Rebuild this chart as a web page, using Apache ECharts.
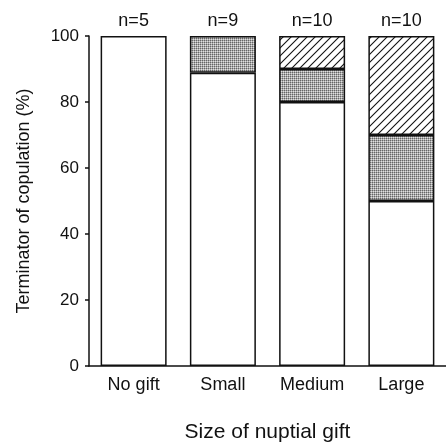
<!DOCTYPE html>
<html><head><meta charset="utf-8">
<script src="https://cdn.jsdelivr.net/npm/echarts@6/dist/echarts.min.js"></script>
<style>html,body{margin:0;padding:0;background:#fff}#c{width:446px;height:448px}</style>
</head><body><div id="c"></div>
<script>
var categories = ['No gift', 'Small', 'Medium', 'Large'];
var nLabels = ['n=5', 'n=9', 'n=10', 'n=10'];
var whiteVals = [100, 88.9, 80, 50];
var dottedVals = [0, 11.1, 10, 20];
var hatchedVals = [0, 0, 10, 30];

function makeHatch() {
  var c = document.createElement('canvas');
  c.width = 8; c.height = 8;
  var g = c.getContext('2d');
  g.fillStyle = '#fff'; g.fillRect(0, 0, 8, 8);
  g.strokeStyle = '#111'; g.lineWidth = 1.1;
  g.beginPath();
  g.moveTo(-1, 9); g.lineTo(9, -1);
  g.moveTo(-9, 9); g.lineTo(1, -1);
  g.moveTo(7, 9); g.lineTo(17, -1);
  g.stroke();
  return c;
}
function makeDots() {
  var c = document.createElement('canvas');
  c.width = 2; c.height = 2;
  var g = c.getContext('2d');
  g.fillStyle = '#666'; g.fillRect(0, 0, 1, 1);
  g.fillStyle = '#aaa'; g.fillRect(1, 0, 1, 1); g.fillRect(0, 1, 1, 1);
  g.fillStyle = '#e0e0e0'; g.fillRect(1, 1, 1, 1);
  return c;
}
function nz(arr) { return arr.map(function (v) { return v === 0 ? '-' : v; }); }
var font = 'Liberation Sans, Arial, Helvetica, sans-serif';
var chart = echarts.init(document.getElementById('c'));
var border = {borderColor: '#111', borderWidth: 1.5};
chart.setOption({
  animation: false,
  grid: {left: 89, top: 36, width: 362, height: 332},
  xAxis: [{
    type: 'category', data: categories, position: 'bottom',
    axisLine: {lineStyle: {color: '#111', width: 1.5}},
    axisTick: {show: false},
    axisLabel: {color: '#111', fontSize: 18, fontFamily: font, margin: 10},
    name: 'Size of nuptial gift', nameLocation: 'middle', nameGap: 56,
    nameTextStyle: {color: '#111', fontSize: 21, fontFamily: font}
  }, {
    type: 'category', data: nLabels, position: 'top',
    axisLine: {show: false}, axisTick: {show: false},
    axisLabel: {color: '#111', fontSize: 18, fontFamily: font, margin: 6}
  }],
  yAxis: {
    type: 'value', min: 0, max: 100, interval: 20,
    axisLine: {show: true, lineStyle: {color: '#111', width: 1.5}},
    axisTick: {show: true, length: 4, lineStyle: {color: '#111', width: 1.5}},
    splitLine: {show: false},
    axisLabel: {color: '#111', fontSize: 17, fontFamily: font, margin: 10},
    name: 'Terminator of copulation (%)', nameLocation: 'middle', nameGap: 56,
    nameTextStyle: {color: '#111', fontSize: 18, fontFamily: font}
  },
  series: [
    {type: 'bar', stack: 'a', data: nz(whiteVals), barWidth: 66,
     itemStyle: Object.assign({color: '#fff'}, border)},
    {type: 'bar', stack: 'a', data: nz(dottedVals), barWidth: 66,
     itemStyle: Object.assign({color: {image: makeDots(), repeat: 'repeat'}}, border)},
    {type: 'bar', stack: 'a', data: nz(hatchedVals), barWidth: 66,
     itemStyle: Object.assign({color: {image: makeHatch(), repeat: 'repeat'}}, border)}
  ]
});
</script></body></html>
